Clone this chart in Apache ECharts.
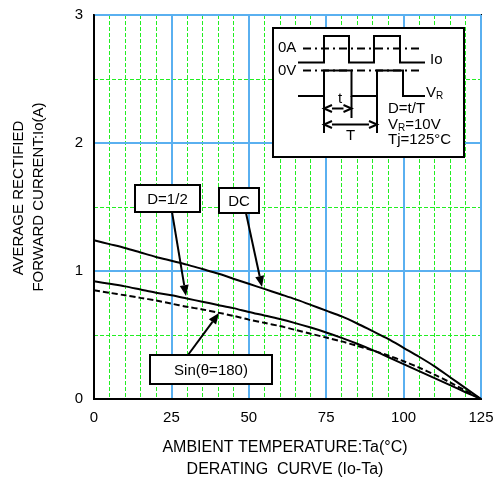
<!DOCTYPE html>
<html><head><meta charset="utf-8">
<script src="https://cdn.jsdelivr.net/npm/echarts@6/dist/echarts.min.js"></script>
<style>html,body{margin:0;padding:0;background:#fff}#c{width:499px;height:484px}</style>
</head><body><div id="c"></div>
<script>
var temps = [0, 5, 10, 15, 20, 25, 30, 35, 40, 45, 50, 55, 60, 65, 70, 75, 80, 85, 90, 95, 100, 105, 110, 115, 120, 125];
var dcCurrent = [1.24, 1.21, 1.18, 1.145, 1.11, 1.08, 1.05, 1.015, 0.98, 0.94, 0.90, 0.86, 0.82, 0.78, 0.735, 0.69, 0.645, 0.59, 0.53, 0.47, 0.40, 0.33, 0.255, 0.17, 0.085, 0];
var halfDutyCurrent = [0.92, 0.90, 0.88, 0.855, 0.83, 0.81, 0.785, 0.76, 0.735, 0.71, 0.68, 0.653, 0.625, 0.593, 0.558, 0.52, 0.478, 0.432, 0.382, 0.328, 0.272, 0.218, 0.163, 0.108, 0.053, 0];
var sinCurrent = [0.85, 0.83, 0.81, 0.79, 0.77, 0.745, 0.72, 0.70, 0.675, 0.65, 0.62, 0.595, 0.57, 0.54, 0.51, 0.48, 0.45, 0.415, 0.38, 0.34, 0.295, 0.245, 0.19, 0.13, 0.065, 0];
var xTicks = [0, 25, 50, 75, 100, 125];
var yTicks = [0, 1, 2, 3];

var FONT = 'Liberation Sans, Arial, sans-serif';
function pairs(ys){ return temps.map(function(t,i){return [t, ys[i]];}); }

function arrow(x1,y1,x2,y2,len,w){
  var a = Math.atan2(y2-y1, x2-x1);
  len = len||11; w = w||4.5;
  var bx = x2 - len*Math.cos(a), by = y2 - len*Math.sin(a);
  var px = -Math.sin(a)*w, py = Math.cos(a)*w;
  return [
    {type:'line', shape:{x1:x1,y1:y1,x2:bx,y2:by}, style:{stroke:'#000', lineWidth:2}, z:100},
    {type:'polygon', shape:{points:[[x2,y2],[bx+px,by+py],[bx-px,by-py]]}, style:{fill:'#000'}, z:100}
  ];
}
function dblArrow(x1,x2,y){
  var L=8,W=3.5;
  return [
    {type:'line', shape:{x1:x1+L,y1:y,x2:x2-L,y2:y}, style:{stroke:'#000', lineWidth:2}, z:120},
    {type:'polyline', shape:{points:[[x1+L,y-W],[x1,y],[x1+L,y+W]]}, style:{stroke:'#000', lineWidth:2, fill:null}, z:120},
    {type:'polyline', shape:{points:[[x2-L,y-W],[x2,y],[x2-L,y+W]]}, style:{stroke:'#000', lineWidth:2, fill:null}, z:120}
  ];
}
function box(x,y,w,h,text){
  return [
    {type:'rect', shape:{x:x,y:y,width:w,height:h}, style:{fill:'#fff', stroke:'#000', lineWidth:2}, z:105},
    {type:'text', x:x+w/2, y:y+h/2+1, style:{text:text, fill:'#000', font:'15px '+FONT, textAlign:'center', textVerticalAlign:'middle'}, z:106}
  ];
}
function seg(x1,y1,x2,y2,dash){
  return {type:'line', shape:{x1:x1,y1:y1,x2:x2,y2:y2}, style:{stroke:'#000', lineWidth:2, lineDash:dash||null}, z:120};
}
function txt(x,y,t,size,align){
  return {type:'text', x:x, y:y, style:{text:t, fill:'#000', font:(size||15)+'px '+FONT, textAlign:align||'left', textVerticalAlign:'middle'}, z:121};
}

var g = [];
g.push({type:'rect', shape:{x:273,y:28,width:191,height:129}, style:{fill:'#fff', stroke:'#000', lineWidth:2}, z:110});
g.push(seg(303,48.5,420,48.5,[8,4,2,4]));
g.push(seg(303,70.5,420,70.5,[8,4,2,4]));
g.push({type:'polyline', shape:{points:[[298,62.5],[324,62.5],[324,36],[349,36],[349,62.5],[374,62.5],[374,36],[400,36],[400,62.5],[425,62.5]]}, style:{stroke:'#000', lineWidth:2, fill:null}, z:120});
g.push({type:'polyline', shape:{points:[[298,96],[324,96],[324,70.5],[351.5,70.5],[351.5,96],[377,96],[377,70.5],[403,70.5],[403,96],[425,96]]}, style:{stroke:'#000', lineWidth:2, fill:null}, z:120});
g.push(seg(324,96,324,133));
g.push(seg(351.5,96,351.5,118));
g.push(seg(377,96,377,133));
g = g.concat(dblArrow(324,351.5,108.5));
g = g.concat(dblArrow(324,377,124.5));
g.push(txt(278,48,'0A'));
g.push(txt(278,70.5,'0V'));
g.push(txt(430,60,'Io'));
g.push({type:'text', x:426, y:93, style:{rich:{a:{font:'15px '+FONT, fill:'#000'}, s:{font:'10px '+FONT, fill:'#000', verticalAlign:'bottom', padding:[6,0,0,0]}}, text:'{a|V}{s|R}', textVerticalAlign:'middle'}, z:121});
g.push(txt(338,99,'t'));
g.push(txt(346,136,'T'));
g.push(txt(388,109,'D=t/T'));
g.push({type:'text', x:388, y:124.5, style:{rich:{a:{font:'15px '+FONT, fill:'#000'}, s:{font:'10px '+FONT, fill:'#000', padding:[7,0,0,0]}}, text:'{a|V}{s|R}{a|=10V}', textVerticalAlign:'middle'}, z:121});
g.push(txt(388,139.5,'Tj=125°C'));
g = g.concat(box(135,185,65,27,'D=1/2'));
g = g.concat(box(219,188,40,25,'DC'));
g = g.concat(box(150,355,122,29,'Sin(θ=180)'));
g = g.concat(arrow(172,212,186,296));
g = g.concat(arrow(246,213,262,287));
g = g.concat(arrow(188,355,219,313));
g.push(txt(285,447.5,'AMBIENT TEMPERATURE:Ta(°C)',16,'center'));
g.push(txt(285,470,'DERATING  CURVE (Io-Ta)',16,'center'));
g.push({type:'text', x:19, y:198, rotation:Math.PI/2, style:{text:'AVERAGE RECTIFIED', fill:'#000', font:'15px '+FONT, textAlign:'center', textVerticalAlign:'middle'}, z:121});
g.push({type:'text', x:39, y:197, rotation:Math.PI/2, style:{text:'FORWARD CURRENT:Io(A)', fill:'#000', font:'15px '+FONT, textAlign:'center', textVerticalAlign:'middle'}, z:121});

var chart = echarts.init(document.getElementById('c'), null, {renderer:'canvas'});
var lineBase = {type:'line', showSymbol:false, smooth:0.3, z:50, silent:true, xAxisIndex:1, yAxisIndex:1};
var hidden = {axisLine:{show:false}, axisTick:{show:false}, axisLabel:{show:false}};
var BLUE = '#5ab0f0', GREEN = '#22ee22';
chart.setOption({
  animation:false,
  backgroundColor:'#fff',
  grid:{left:94, right:18, top:15, bottom:85, show:true, borderColor:'#000', borderWidth:2, backgroundColor:'transparent'},
  xAxis:[
    Object.assign({type:'value', position:'bottom', min:0, max:125, interval:5, z:0,
      splitLine:{show:true, lineStyle:{color:GREEN, width:1, type:[4,2]}}}, hidden),
    {type:'value', position:'bottom', min:xTicks[0], max:xTicks[xTicks.length-1], interval:25, z:5,
      axisLine:{show:true, onZero:false, lineStyle:{color:'#000', width:2}},
      axisTick:{show:false},
      axisLabel:{color:'#000', fontSize:15, fontFamily:FONT, margin:11},
      splitLine:{show:true, lineStyle:{color:BLUE, width:2}}}
  ],
  yAxis:[
    Object.assign({type:'value', position:'left', min:0, max:3, interval:0.5, z:0,
      splitLine:{show:true, lineStyle:{color:GREEN, width:1, type:[4,2]}}}, hidden),
    {type:'value', position:'left', min:yTicks[0], max:yTicks[yTicks.length-1], interval:1, z:5,
      axisLine:{show:true, onZero:false, lineStyle:{color:'#000', width:2}},
      axisTick:{show:false},
      axisLabel:{color:'#000', fontSize:15, fontFamily:FONT, margin:11},
      splitLine:{show:true, lineStyle:{color:BLUE, width:2}}}
  ],
  series:[
    Object.assign({}, lineBase, {name:'DC', data:pairs(dcCurrent), lineStyle:{color:'#000', width:2}}),
    Object.assign({}, lineBase, {name:'D=1/2', data:pairs(halfDutyCurrent), lineStyle:{color:'#000', width:2}}),
    Object.assign({}, lineBase, {name:'Sin', data:pairs(sinCurrent), lineStyle:{color:'#000', width:2, type:[6,3]}})
  ],
  graphic:g
});
</script></body></html>
